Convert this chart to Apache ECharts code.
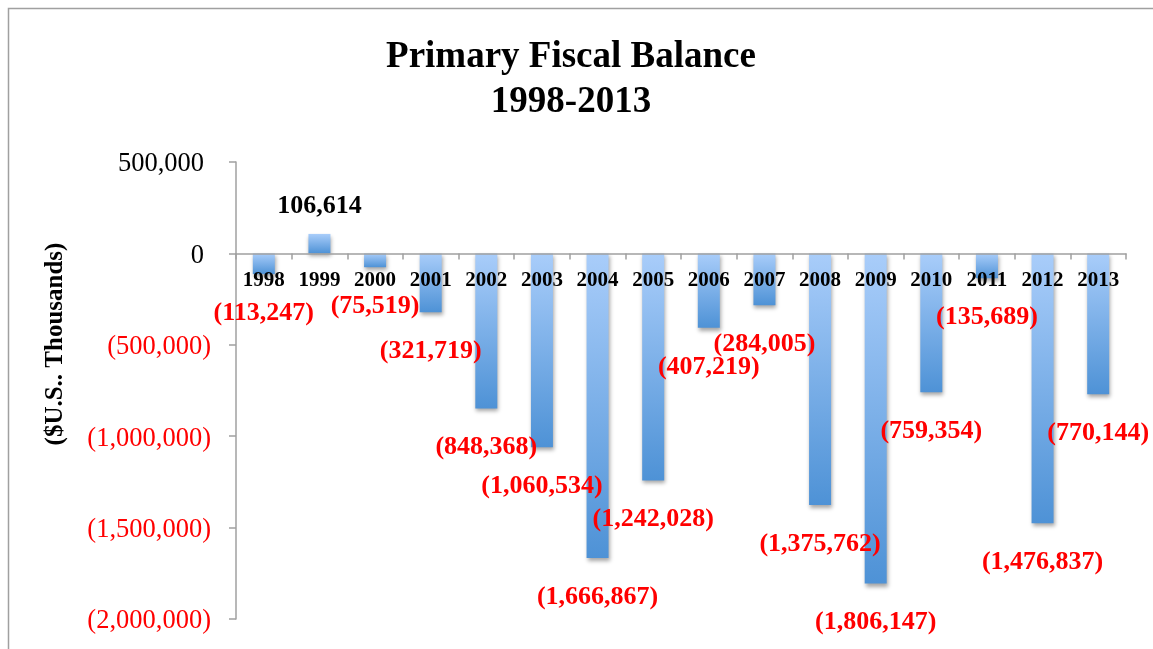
<!DOCTYPE html>
<html>
<head>
<meta charset="utf-8">
<script src="https://cdn.jsdelivr.net/npm/echarts@6/dist/echarts.min.js"></script>
<style>
html,body{margin:0;padding:0;background:#fff;}
#chart{width:1153px;height:649px;}
</style>
</head>
<body>
<div id="chart"></div>
<script>
const categories = ['1998','1999','2000','2001','2002','2003','2004','2005','2006','2007','2008','2009','2010','2011','2012','2013'];
const balance = [-113247, 106614, -75519, -321719, -848368, -1060534, -1666867, -1242028, -407219, -284005, -1375762, -1806147, -759354, -135689, -1476837, -770144];
const titleText = 'Primary Fiscal Balance\n1998-2013';
const yAxisTitle = '($U.S.. Thousands)';
const yMin = -2000000, yMax = 500000, yStep = 500000;

const FONT = "'Times New Roman', 'Liberation Serif', serif";
function fmt(v) {
  const s = Math.abs(v).toLocaleString('en-US');
  return v < 0 ? '(' + s + ')' : s;
}

const W = 1153, H = 649;
const gridTop = 162, gridBottom = 30;
const plotH = H - gridTop - gridBottom;
// distance of the zero line above the grid bottom, so the category axis sits on zero
const zeroFromBottom = plotH * (0 - yMin) / (yMax - yMin);

const chart = echarts.init(document.getElementById('chart'), null, {renderer: 'canvas'});
chart.setOption({
  animation: false,
  backgroundColor: '#fff',
  title: {
    text: titleText,
    left: 566,
    top: 30,
    textAlign: 'center',
    textStyle: {fontFamily: FONT, fontWeight: 'bold', fontSize: 37, lineHeight: 45, color: '#000'}
  },
  graphic: [
    {type: 'rect', shape: {x: 8.5, y: 8.5, width: 1400, height: 900}, style: {fill: 'none', stroke: '#a0a0a0', lineWidth: 1.5}, silent: true, z: -1},
    {type: 'text', x: 56, y: 344, rotation: Math.PI / 2,
     style: {text: yAxisTitle, font: 'bold 25px ' + FONT, fill: '#000', textAlign: 'center', textVerticalAlign: 'middle'}}
  ],
  grid: {left: 236, right: 27, top: gridTop, bottom: gridBottom, containLabel: false},
  xAxis: {
    type: 'category',
    data: categories,
    position: 'bottom',
    offset: -zeroFromBottom,
    z: 5,
    axisLine: {onZero: false, lineStyle: {color: '#a0a0a0', width: 1.5}},
    axisTick: {show: true, inside: false, length: 6, alignWithLabel: false, lineStyle: {color: '#a0a0a0', width: 1.5}},
    axisLabel: {margin: 17, fontFamily: FONT, fontWeight: 'bold', fontSize: 21, color: '#000', interval: 0},
    splitLine: {show: false}
  },
  yAxis: {
    type: 'value',
    min: yMin,
    max: yMax,
    interval: yStep,
    axisLine: {show: true, lineStyle: {color: '#a0a0a0', width: 1.5}},
    axisTick: {show: true, inside: false, length: 7, lineStyle: {color: '#a0a0a0', width: 1.5}},
    splitLine: {show: false},
    axisLabel: {
      margin: 25,
      fontFamily: FONT, fontSize: 26.5,
      padding: [5, 0, 0, 0],
      formatter: v => (Number(v) < 0 ? fmt(Number(v)) : '{p|' + fmt(Number(v)) + '}'),
      rich: {p: {fontFamily: FONT, fontSize: 26.5, color: '#000', padding: [0, 7, 0, 0]}},
      color: v => (Number(v) < 0 ? '#ff0000' : '#000')
    }
  },
  series: [{
    type: 'bar',
    barWidth: 22,
    z: 2,
    data: balance.map(v => ({
      value: v,
      label: {
        position: v < 0 ? 'bottom' : 'top',
        distance: v < 0 ? 26 : 15,
        color: v < 0 ? '#ff0000' : '#000'
      }
    })),
    itemStyle: {
      color: new echarts.graphic.LinearGradient(0, 0, 0, 1, [
        {offset: 0, color: '#a9cdfa'},
        {offset: 1, color: '#4e92d6'}
      ]),
      shadowColor: 'rgba(0,0,0,0.35)',
      shadowBlur: 4,
      shadowOffsetX: 1,
      shadowOffsetY: 3
    },
    label: {
      show: true,
      fontFamily: FONT,
      fontWeight: 'bold',
      fontSize: 26,
      formatter: p => fmt(p.value)
    }
  }]
});
</script>
</body>
</html>
